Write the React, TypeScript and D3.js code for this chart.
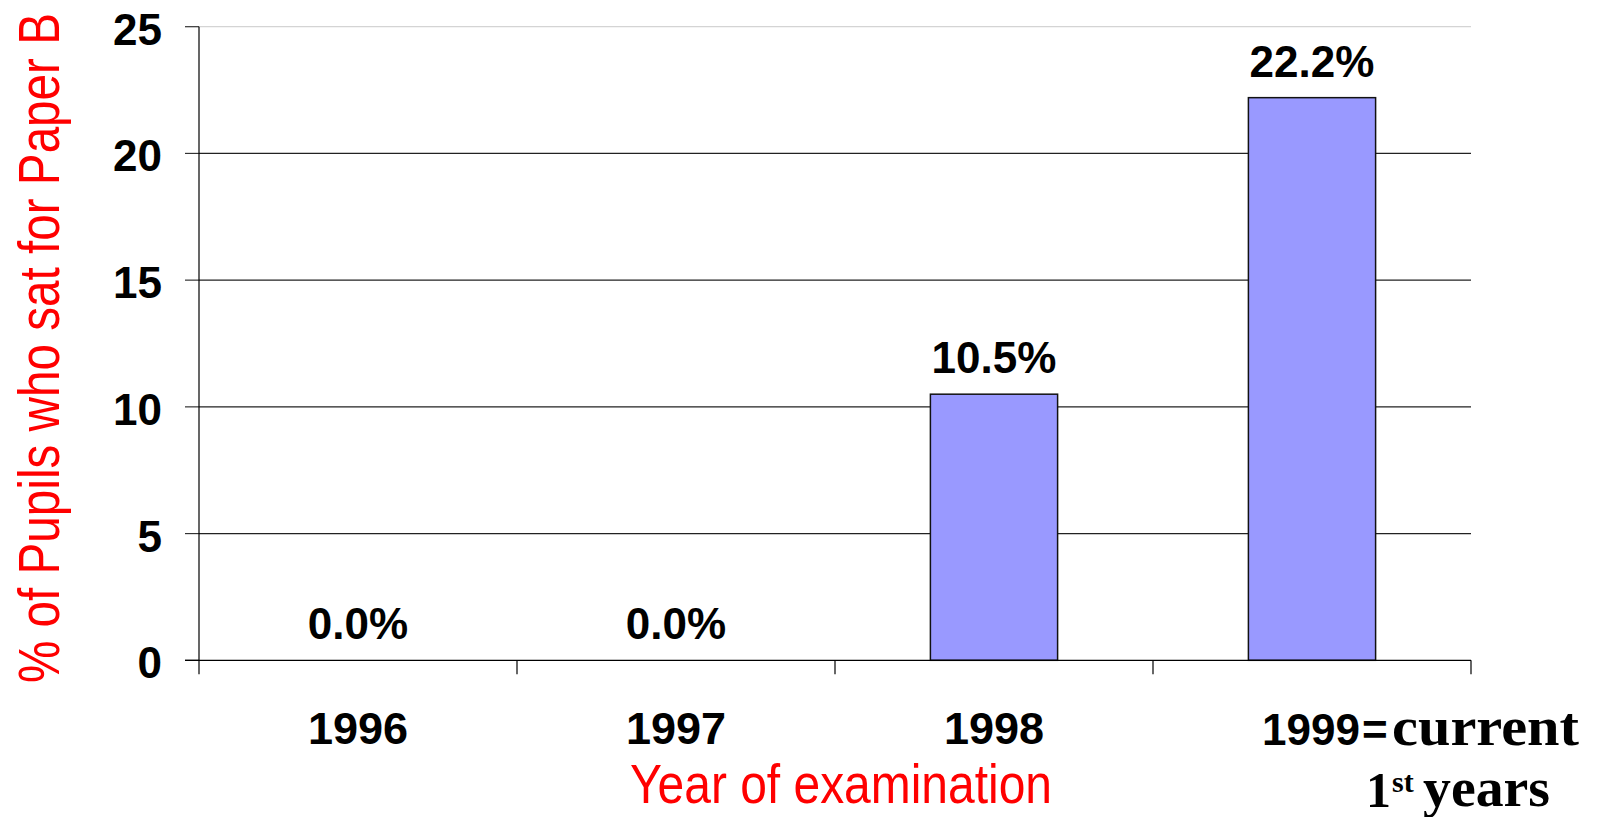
import React from "react";
import * as d3 from "d3";

const years = ["1996", "1997", "1998", "1999"];
const paperBPercent = [0, 0, 10.5, 22.2];
const yTicks = [0, 5, 10, 15, 20, 25];

const W = 1600;
const H = 817;
const plot = { left: 199, right: 1471, top: 26.7, bottom: 660.3 };

const sans = "'Liberation Sans', Arial, sans-serif";
const narrow = "'Liberation Sans Narrow', 'Arial Narrow', 'Liberation Sans', Arial, sans-serif";
const serif = "'Liberation Serif', 'Times New Roman', serif";

export default function App() {
  const x = d3.scaleBand<string>().domain(years).range([plot.left, plot.right]).padding(0);
  const y = d3.scaleLinear().domain([0, 25]).range([plot.bottom, plot.top]);
  const bw = x.bandwidth() * 0.4;
  const cx = (d: string) => (x(d) ?? 0) + x.bandwidth() / 2;

  // 1999 label is a two-line mixed-font label, laid out from the band centre
  const c99 = cx("1999");

  return (
    <svg
      width={W}
      height={H}
      style={{ position: "absolute", left: 0, top: 0, display: "block", background: "#fff" }}
    >
      {/* gridlines + y ticks */}
      {yTicks.map((t) => (
        <g key={t}>
          {t > 0 && (
            <line
              x1={plot.left}
              x2={plot.right}
              y1={y(t)}
              y2={y(t)}
              stroke={t === 25 ? "#d4d4d4" : "#222"}
              strokeWidth={1.2}
            />
          )}
          <line x1={plot.left - 14} x2={plot.left} y1={y(t)} y2={y(t)} stroke="#333" strokeWidth={1.2} />
          <text
            x={162}
            y={y(t) + 18}
            textAnchor="end"
            fontFamily={sans}
            fontWeight="bold"
            fontSize={44}
            fill="#000"
          >
            {t}
          </text>
        </g>
      ))}

      {/* bars */}
      {years.map((d, i) =>
        paperBPercent[i] > 0 ? (
          <rect
            key={d}
            x={cx(d) - bw / 2}
            y={y(paperBPercent[i])}
            width={bw}
            height={y(0) - y(paperBPercent[i])}
            fill="#9999ff"
            stroke="#111"
            strokeWidth={1.5}
          />
        ) : null
      )}

      {/* value labels */}
      {years.map((d, i) => (
        <text
          key={d}
          x={cx(d)}
          y={y(paperBPercent[i]) - 21}
          textAnchor="middle"
          fontFamily={sans}
          fontWeight="bold"
          fontSize={44}
          fill="#000"
        >
          {paperBPercent[i].toFixed(1) + "%"}
        </text>
      ))}

      {/* axes */}
      <line x1={plot.left} x2={plot.left} y1={plot.top} y2={plot.bottom + 14} stroke="#000" strokeWidth={1.2} />
      <line x1={plot.left - 14} x2={plot.right} y1={y(0)} y2={y(0)} stroke="#000" strokeWidth={1.2} />
      {years.map((d) => (
        <line
          key={d}
          x1={(x(d) ?? 0) + x.bandwidth()}
          x2={(x(d) ?? 0) + x.bandwidth()}
          y1={y(0)}
          y2={y(0) + 14}
          stroke="#000"
          strokeWidth={1.2}
        />
      ))}

      {/* category labels */}
      {years.slice(0, 3).map((d) => (
        <text
          key={d}
          x={cx(d)}
          y={744}
          textAnchor="middle"
          fontFamily={sans}
          fontWeight="bold"
          fontSize={45}
          fill="#000"
        >
          {d}
        </text>
      ))}
      <g fill="#000" fontWeight="bold">
        <text x={c99 - 50} y={745} fontFamily={sans} fontSize={44}>
          1999
        </text>
        <text x={c99 + 50} y={745} fontFamily={sans} fontSize={44}>
          =
        </text>
        <text x={c99 + 80} y={745} fontFamily={serif} fontSize={54} textLength={187} lengthAdjust="spacingAndGlyphs">
          current
        </text>
        <text x={c99 + 54} y={807} fontFamily={serif} fontSize={50}>
          1
        </text>
        <text x={c99 + 80} y={792} fontFamily={serif} fontSize={30}>
          st
        </text>
        <text x={c99 + 111} y={806} fontFamily={serif} fontSize={54} textLength={127} lengthAdjust="spacingAndGlyphs">
          years
        </text>
      </g>

      {/* axis titles */}
      <text
        x={(plot.left + plot.right) / 2 + 6}
        y={803}
        textAnchor="middle"
        fontFamily={narrow}
        fontSize={56}
        fill="#ff0000"
        textLength={422}
        lengthAdjust="spacingAndGlyphs"
      >
        Year of examination
      </text>
      <text
        transform={`translate(59, ${(13 + 683) / 2}) rotate(-90)`}
        textAnchor="middle"
        fontFamily={narrow}
        fontSize={57}
        fill="#ff0000"
        textLength={670}
        lengthAdjust="spacingAndGlyphs"
      >
        % of Pupils who sat for Paper B
      </text>
    </svg>
  );
}
